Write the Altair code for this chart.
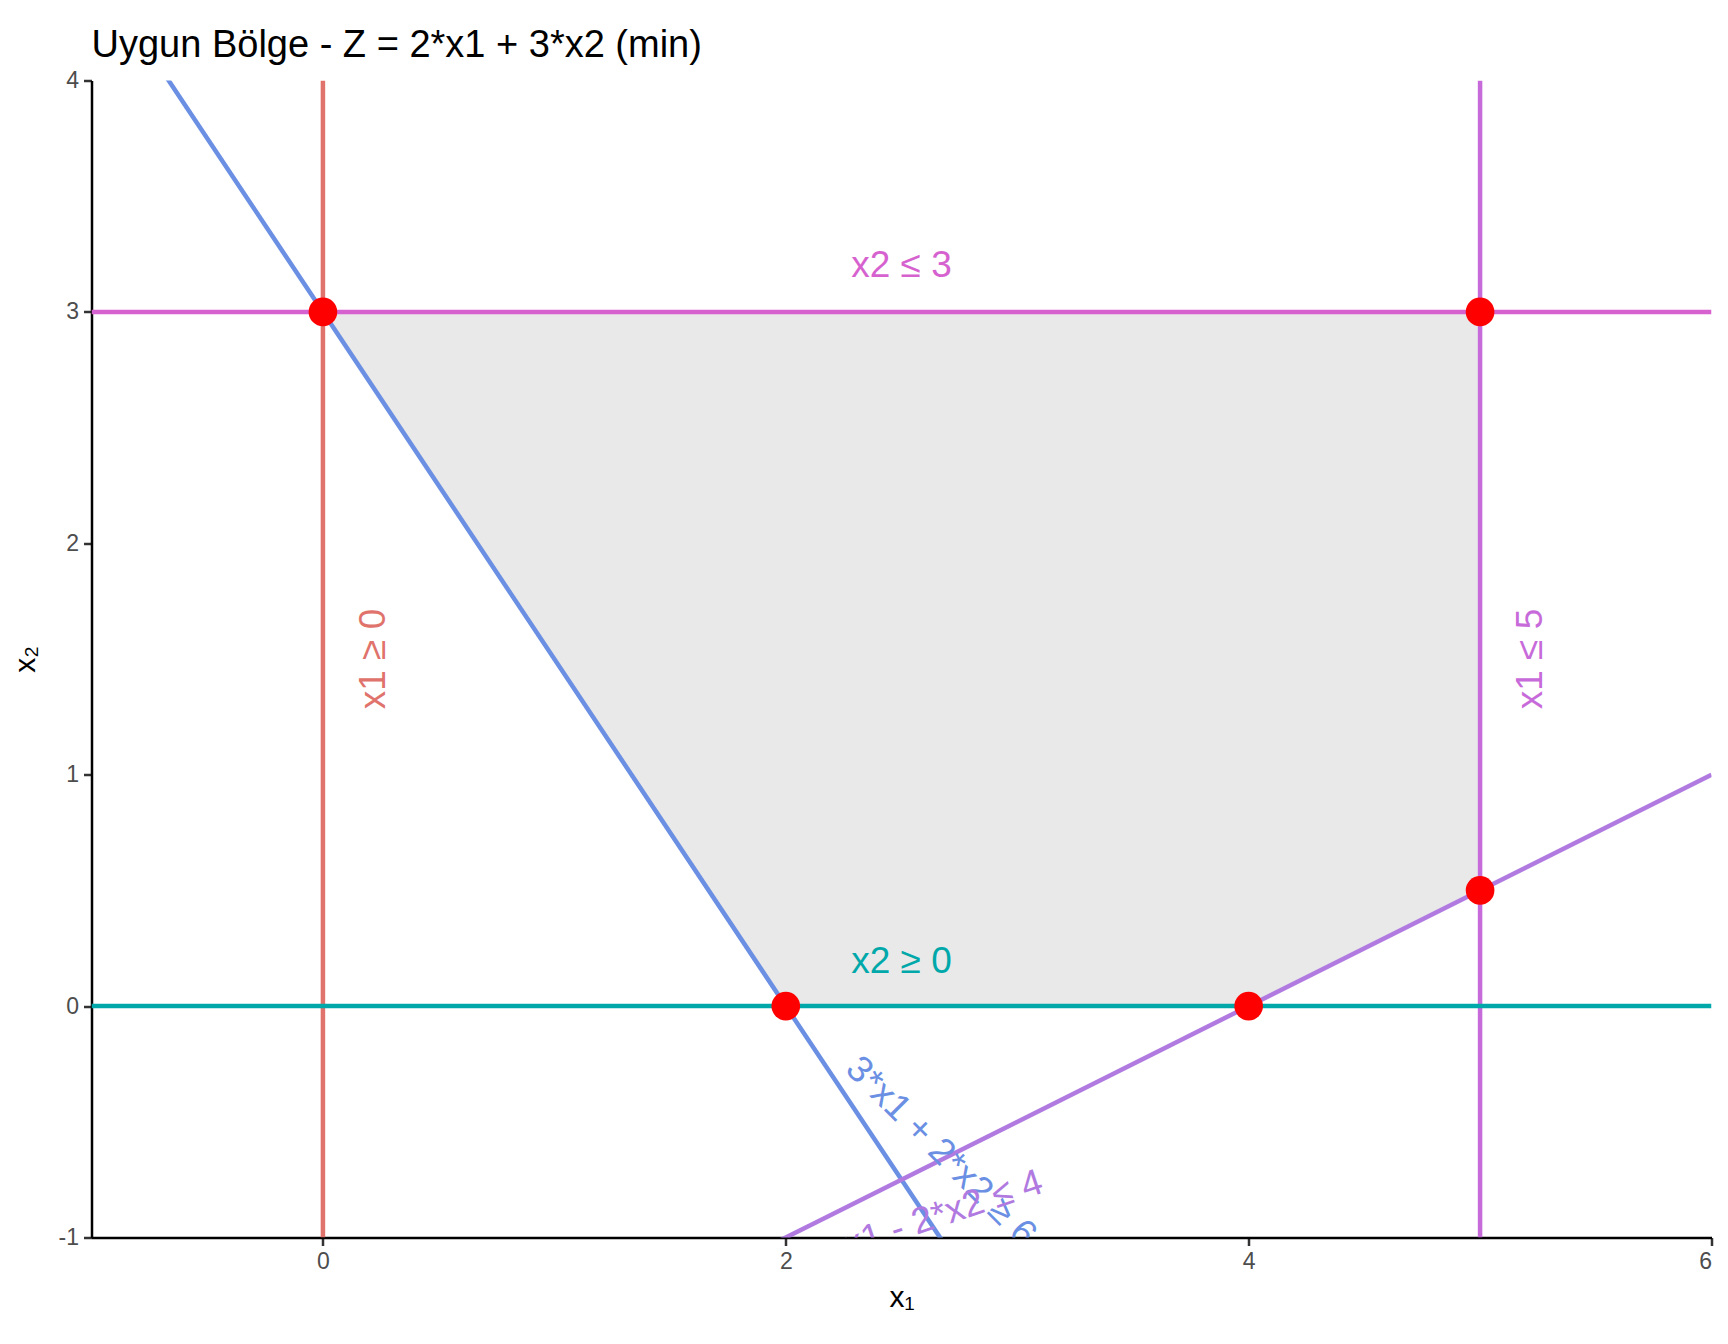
import altair as alt
import pandas as pd

# constraint lines (segment endpoints in data units)
line_names = ["x1 ≥ 0", "x2 ≤ 3", "3*x1 + 2*x2 ≥ 6", "x1 - 2*x2 ≤ 4", "x1 ≤ 5", "x2 ≥ 0"]
line_x = [0, -1, -1, -1, 5, -1]
line_y = [-1, 3, 4.5, -2.5, -1, 0]
line_x2 = [0, 6, 6, 6, 5, 6]
line_y2 = [4, 3, -6, 1, 4, 0]
line_colors = ["#E0736B", "#D662CF", "#6A8FE3", "#B07AE0", "#C86BDA", "#00A8AA"]

# label positions
label_x = [0.22, 2.5, 2.67, 2.68, 5.22, 2.5]
label_y = [1.5, 3.2, -0.63, -0.9, 1.5, 0.19]
label_angle = [270, 0, 45, 341.6, 270, 0]

# feasible region (upper and lower boundary at each x)
region_x = [0, 2, 4, 5]
region_top = [3, 3, 3, 3]
region_bottom = [3, 0, 0, 0.5]

# corner points
corner_x = [0, 5, 5, 4, 2]
corner_y = [3, 3, 0.5, 0, 0]

xscale = alt.Scale(domain=[-1, 6], nice=False, zero=False)
yscale = alt.Scale(domain=[-1, 4], nice=False, zero=False)

lines_df = pd.DataFrame({"name": line_names, "x": line_x, "y": line_y,
                         "x2": line_x2, "y2": line_y2, "lx": label_x,
                         "ly": label_y, "ang": label_angle})
region_df = pd.DataFrame({"x": region_x, "top": region_top, "bottom": region_bottom})
corner_df = pd.DataFrame({"x": corner_x, "y": corner_y})

color = alt.Color("name:N", scale=alt.Scale(domain=line_names, range=line_colors), legend=None)

region = alt.Chart(region_df).mark_area(color="#E9E9E9", opacity=1).encode(
    x=alt.X("x:Q", scale=xscale,
            axis=alt.Axis(title="x₁", values=[0, 2, 4, 6], grid=False,
                          labelExpr="datum.value + ''")),
    y=alt.Y("top:Q", scale=yscale,
            axis=alt.Axis(title="x₂", values=[-1, 0, 1, 2, 3, 4], grid=False,
                          labelExpr="datum.value + ''")),
    y2="bottom:Q",
)

rules = alt.Chart(lines_df).mark_rule(strokeWidth=4.5, clip=True).encode(
    x=alt.X("x:Q", scale=xscale), y=alt.Y("y:Q", scale=yscale),
    x2="x2:Q", y2="y2:Q", color=color,
)

labels = alt.Chart(lines_df).mark_text(fontSize=37, font="Liberation Sans", clip=True,
                                       align="center", baseline="middle").encode(
    x=alt.X("lx:Q", scale=xscale), y=alt.Y("ly:Q", scale=yscale),
    text="name:N", color=color, angle=alt.Angle("ang:Q", scale=None),
)

points = alt.Chart(corner_df).mark_circle(color="#FF0000", size=820, opacity=1).encode(
    x=alt.X("x:Q", scale=xscale), y=alt.Y("y:Q", scale=yscale),
)

chart = alt.layer(region, rules, labels, points).properties(
    width=1620, height=1157,
    autosize=alt.AutoSizeParams(type="none"),
    padding={"left": 83.5, "top": 72.5, "right": 8, "bottom": 98},
    title=alt.TitleParams("Uygun Bölge - Z = 2*x1 + 3*x2 (min)", anchor="start",
                          fontSize=38, font="Liberation Sans", fontWeight="normal",
                          color="black", offset=5, frame="group"),
).configure_view(stroke=None).configure_axis(
    domainColor="black", domainWidth=2.5, tickColor="#333333", tickWidth=2.5,
    tickSize=8, labelFont="Liberation Sans", labelFontSize=23, labelColor="#4D4D4D",
    labelPadding=5, titleFont="Liberation Sans", titleFontSize=30,
    titleFontWeight="normal", titleColor="black",
).configure_axisX(titleY=60, titleBaseline="middle").configure_axisY(
    titleX=-66, titleBaseline="middle")

chart.save("out.html", embed_options={"renderer": "svg", "actions": False})
